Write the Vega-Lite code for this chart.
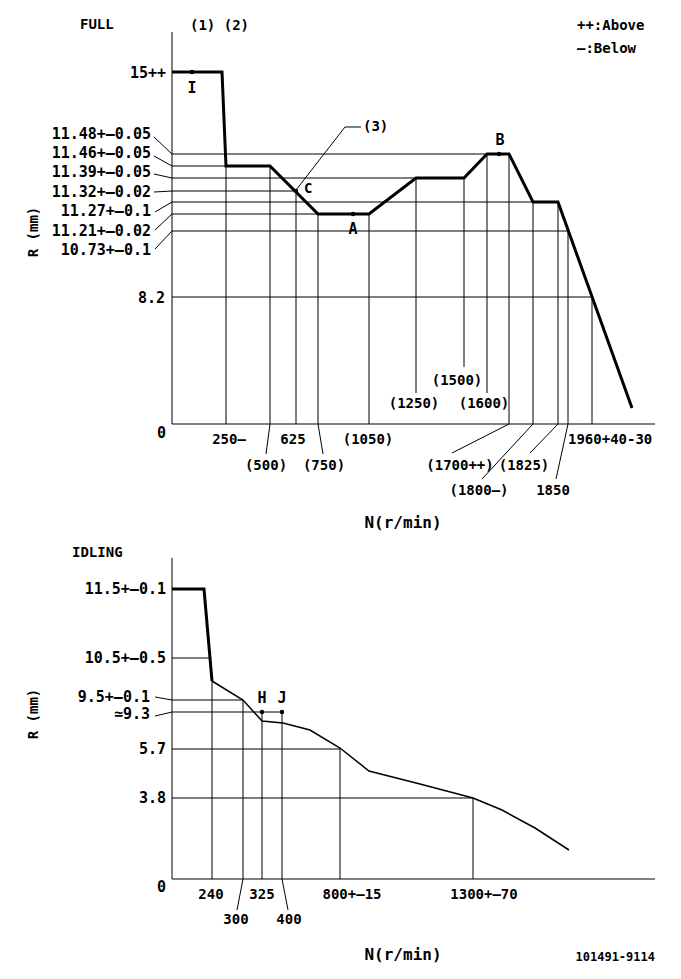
{
  "$schema": "https://vega.github.io/schema/vega-lite/v6.json",
  "width": 681,
  "height": 979,
  "autosize": {"type": "fit", "contains": "padding"},
  "padding": 0,
  "background": "white",
  "config": {
    "view": {"stroke": null},
    "text": {"font": "DejaVu Sans Mono", "fontWeight": "bold", "fontSize": 14, "baseline": "middle", "color": "black"}
  },
  "datasets": {
    "rules": [
      {"x": 172, "y": 32, "x2": 172, "y2": 424},
      {"x": 172, "y": 424, "x2": 655, "y2": 424},
      {"x": 172, "y": 154, "x2": 487, "y2": 154},
      {"x": 172, "y": 166, "x2": 226, "y2": 166},
      {"x": 172, "y": 178, "x2": 416, "y2": 178},
      {"x": 172, "y": 191, "x2": 296, "y2": 191},
      {"x": 172, "y": 202, "x2": 533, "y2": 202},
      {"x": 172, "y": 214, "x2": 318, "y2": 214},
      {"x": 172, "y": 231, "x2": 568, "y2": 231},
      {"x": 172, "y": 297, "x2": 592, "y2": 297},
      {"x": 226, "y": 166, "x2": 226, "y2": 424},
      {"x": 270, "y": 166, "x2": 270, "y2": 424},
      {"x": 296, "y": 191, "x2": 296, "y2": 424},
      {"x": 318, "y": 214, "x2": 318, "y2": 424},
      {"x": 369, "y": 214, "x2": 369, "y2": 424},
      {"x": 416, "y": 178, "x2": 416, "y2": 393},
      {"x": 464, "y": 178, "x2": 464, "y2": 367},
      {"x": 487, "y": 154, "x2": 487, "y2": 393},
      {"x": 509, "y": 154, "x2": 509, "y2": 424},
      {"x": 533, "y": 202, "x2": 533, "y2": 424},
      {"x": 558, "y": 202, "x2": 558, "y2": 424},
      {"x": 568, "y": 231, "x2": 568, "y2": 424},
      {"x": 592, "y": 297, "x2": 592, "y2": 424},
      {"x": 154, "y": 137, "x2": 172, "y2": 154},
      {"x": 154, "y": 156, "x2": 172, "y2": 166},
      {"x": 154, "y": 174, "x2": 172, "y2": 178},
      {"x": 154, "y": 192, "x2": 172, "y2": 191},
      {"x": 155, "y": 212, "x2": 172, "y2": 202},
      {"x": 155, "y": 230, "x2": 172, "y2": 214},
      {"x": 155, "y": 249, "x2": 172, "y2": 231},
      {"x": 296, "y": 190, "x2": 345, "y2": 127},
      {"x": 345, "y": 127, "x2": 361, "y2": 127},
      {"x": 270, "y": 424, "x2": 266, "y2": 454},
      {"x": 318, "y": 424, "x2": 323, "y2": 454},
      {"x": 509, "y": 424, "x2": 452, "y2": 453},
      {"x": 533, "y": 424, "x2": 482, "y2": 479},
      {"x": 558, "y": 424, "x2": 530, "y2": 453},
      {"x": 568, "y": 424, "x2": 556, "y2": 479},
      {"x": 172, "y": 558, "x2": 172, "y2": 879},
      {"x": 172, "y": 879, "x2": 655, "y2": 879},
      {"x": 172, "y": 658, "x2": 210, "y2": 658},
      {"x": 172, "y": 700, "x2": 243, "y2": 700},
      {"x": 172, "y": 712, "x2": 282, "y2": 712},
      {"x": 172, "y": 749, "x2": 340, "y2": 749},
      {"x": 172, "y": 798, "x2": 473, "y2": 798},
      {"x": 212, "y": 681, "x2": 212, "y2": 879},
      {"x": 243, "y": 700, "x2": 243, "y2": 879},
      {"x": 262, "y": 712, "x2": 262, "y2": 879},
      {"x": 282, "y": 712, "x2": 282, "y2": 879},
      {"x": 340, "y": 749, "x2": 340, "y2": 879},
      {"x": 473, "y": 798, "x2": 473, "y2": 879},
      {"x": 155, "y": 697, "x2": 172, "y2": 700},
      {"x": 155, "y": 716, "x2": 172, "y2": 712},
      {"x": 243, "y": 879, "x2": 237, "y2": 910},
      {"x": 282, "y": 879, "x2": 288, "y2": 910}
    ],
    "fullCurve": [
      {"x": 172, "y": 72}, {"x": 222, "y": 72}, {"x": 226, "y": 166}, {"x": 270, "y": 166},
      {"x": 318, "y": 214}, {"x": 369, "y": 214}, {"x": 416, "y": 178}, {"x": 464, "y": 178},
      {"x": 487, "y": 154}, {"x": 509, "y": 154}, {"x": 533, "y": 202}, {"x": 558, "y": 202},
      {"x": 632, "y": 408}
    ],
    "idleThick": [
      {"x": 172, "y": 589}, {"x": 204, "y": 589}, {"x": 212, "y": 681}
    ],
    "idleThin": [
      {"x": 212, "y": 681}, {"x": 243, "y": 700}, {"x": 262, "y": 721}, {"x": 283, "y": 723},
      {"x": 310, "y": 730}, {"x": 340, "y": 748}, {"x": 369, "y": 771}, {"x": 420, "y": 784},
      {"x": 473, "y": 798}, {"x": 502, "y": 810}, {"x": 535, "y": 828}, {"x": 569, "y": 850}
    ],
    "dots": [
      {"x": 192, "y": 72}, {"x": 296, "y": 191}, {"x": 353, "y": 214}, {"x": 499, "y": 154},
      {"x": 262, "y": 712}, {"x": 282, "y": 712}
    ],
    "ylabels": [
      {"x": 166, "y": 73, "t": "15++"},
      {"x": 151, "y": 134, "t": "11.48+—0.05"},
      {"x": 151, "y": 153, "t": "11.46+—0.05"},
      {"x": 151, "y": 172, "t": "11.39+—0.05"},
      {"x": 151, "y": 192, "t": "11.32+—0.02"},
      {"x": 151, "y": 211, "t": "11.27+—0.1"},
      {"x": 151, "y": 231, "t": "11.21+—0.02"},
      {"x": 151, "y": 250, "t": "10.73+—0.1"},
      {"x": 165, "y": 298, "t": "8.2"},
      {"x": 166, "y": 433, "t": "0"},
      {"x": 166, "y": 589, "t": "11.5+—0.1"},
      {"x": 166, "y": 658, "t": "10.5+—0.5"},
      {"x": 150, "y": 697, "t": "9.5+—0.1"},
      {"x": 150, "y": 714, "t": "≃9.3"},
      {"x": 166, "y": 749, "t": "5.7"},
      {"x": 166, "y": 798, "t": "3.8"},
      {"x": 166, "y": 887, "t": "0"}
    ],
    "xlabels": [
      {"x": 229, "y": 440, "t": "250—"},
      {"x": 293, "y": 440, "t": "625"},
      {"x": 368, "y": 440, "t": "(1050)"},
      {"x": 266, "y": 466, "t": "(500)"},
      {"x": 324, "y": 466, "t": "(750)"},
      {"x": 414, "y": 404, "t": "(1250)"},
      {"x": 457, "y": 381, "t": "(1500)"},
      {"x": 484, "y": 404, "t": "(1600)"},
      {"x": 460, "y": 466, "t": "(1700++)"},
      {"x": 524, "y": 466, "t": "(1825)"},
      {"x": 479, "y": 491, "t": "(1800—)"},
      {"x": 553, "y": 491, "t": "1850"},
      {"x": 211, "y": 895, "t": "240"},
      {"x": 262, "y": 895, "t": "325"},
      {"x": 236, "y": 920, "t": "300"},
      {"x": 289, "y": 920, "t": "400"},
      {"x": 352, "y": 895, "t": "800+—15"},
      {"x": 484, "y": 895, "t": "1300+—70"}
    ],
    "leftlabels": [
      {"x": 568, "y": 440, "t": "1960+40-30"},
      {"x": 80, "y": 25, "t": "FULL"},
      {"x": 190, "y": 26, "t": "(1) (2)"},
      {"x": 72, "y": 553, "t": "IDLING"},
      {"x": 577, "y": 26, "t": "++:Above"},
      {"x": 577, "y": 49, "t": "—:Below"},
      {"x": 363, "y": 127, "t": "(3)"},
      {"x": 304, "y": 189, "t": "C"}
    ],
    "letters": [
      {"x": 353, "y": 229, "t": "A"},
      {"x": 500, "y": 140, "t": "B"},
      {"x": 192, "y": 88, "t": "I"},
      {"x": 262, "y": 698, "t": "H"},
      {"x": 282, "y": 698, "t": "J"}
    ],
    "ntitles": [
      {"x": 403, "y": 523, "t": "N(r/min)"},
      {"x": 403, "y": 955, "t": "N(r/min)"}
    ],
    "rtitles": [
      {"x": 34, "y": 232, "t": "R (mm)"},
      {"x": 34, "y": 714, "t": "R (mm)"}
    ],
    "code": [
      {"x": 655, "y": 957, "t": "101491-9114"}
    ]
  },
  "encoding": {
    "x": {"field": "x", "type": "quantitative", "scale": {"domain": [0, 681], "nice": false, "zero": false}, "axis": null},
    "y": {"field": "y", "type": "quantitative", "scale": {"domain": [0, 979], "nice": false, "zero": false, "reverse": true}, "axis": null}
  },
  "layer": [
    {
      "data": {"name": "rules"},
      "mark": {"type": "rule", "color": "black", "strokeWidth": 1},
      "encoding": {"x2": {"field": "x2"}, "y2": {"field": "y2"}}
    },
    {
      "data": {"name": "fullCurve"},
      "mark": {"type": "line", "color": "black", "strokeWidth": 3},
      "encoding": {}
    },
    {
      "data": {"name": "idleThick"},
      "mark": {"type": "line", "color": "black", "strokeWidth": 3},
      "encoding": {}
    },
    {
      "data": {"name": "idleThin"},
      "mark": {"type": "line", "color": "black", "strokeWidth": 1.5},
      "encoding": {}
    },
    {
      "data": {"name": "dots"},
      "mark": {"type": "point", "filled": true, "color": "black", "size": 20, "opacity": 1},
      "encoding": {}
    },
    {
      "data": {"name": "ylabels"},
      "mark": {"type": "text", "align": "right", "fontSize": 15},
      "encoding": {"text": {"field": "t"}}
    },
    {
      "data": {"name": "xlabels"},
      "mark": {"type": "text", "align": "center", "fontSize": 14},
      "encoding": {"text": {"field": "t"}}
    },
    {
      "data": {"name": "leftlabels"},
      "mark": {"type": "text", "align": "left", "fontSize": 14},
      "encoding": {"text": {"field": "t"}}
    },
    {
      "data": {"name": "letters"},
      "mark": {"type": "text", "align": "center", "fontSize": 15},
      "encoding": {"text": {"field": "t"}}
    },
    {
      "data": {"name": "ntitles"},
      "mark": {"type": "text", "align": "center", "fontSize": 16},
      "encoding": {"text": {"field": "t"}}
    },
    {
      "data": {"name": "rtitles"},
      "mark": {"type": "text", "align": "center", "fontSize": 14, "angle": 270},
      "encoding": {"text": {"field": "t"}}
    },
    {
      "data": {"name": "code"},
      "mark": {"type": "text", "align": "right", "fontSize": 12},
      "encoding": {"text": {"field": "t"}}
    }
  ]
}
